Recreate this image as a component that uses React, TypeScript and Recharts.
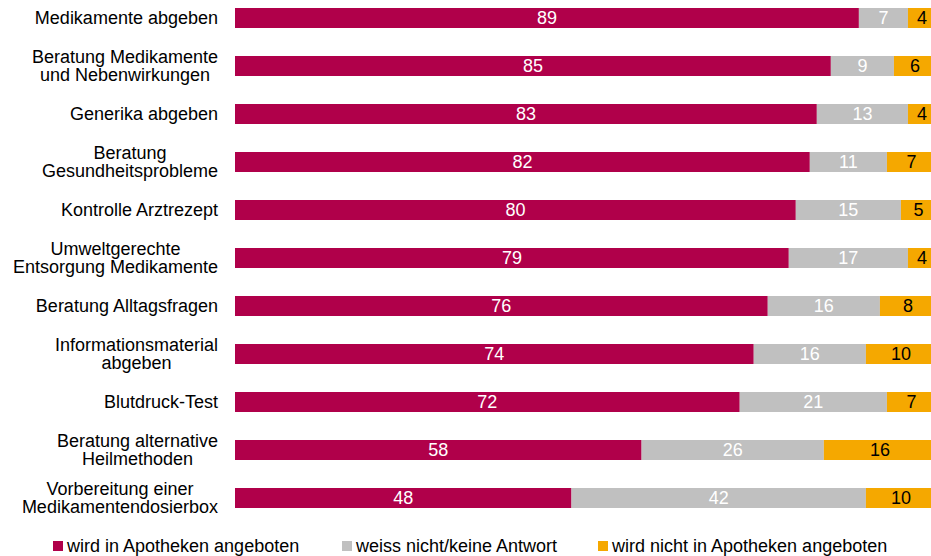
import React from "react";
import { BarChart, Bar, XAxis, YAxis, LabelList } from "recharts";

const categories = [
  "Medikamente abgeben",
  "Beratung Medikamente\nund Nebenwirkungen",
  "Generika abgeben",
  "Beratung\nGesundheitsprobleme",
  "Kontrolle Arztrezept",
  "Umweltgerechte\nEntsorgung Medikamente",
  "Beratung Alltagsfragen",
  "Informationsmaterial\nabgeben",
  "Blutdruck-Test",
  "Beratung alternative\nHeilmethoden",
  "Vorbereitung einer\nMedikamentendosierbox",
];
const offered = [89, 85, 83, 82, 80, 79, 76, 74, 72, 58, 48];
const unknown = [7, 9, 13, 11, 15, 17, 16, 16, 21, 26, 42];
const notOffered = [4, 6, 4, 7, 5, 4, 8, 10, 7, 16, 10];

const seriesNames = [
  "wird in Apotheken angeboten",
  "weiss nicht/keine Antwort",
  "wird nicht in Apotheken angeboten",
];
const colors = ["#B0004A", "#C0C0C0", "#F5A800"];

const data = categories.map((name, i) => ({
  name,
  offered: offered[i],
  unknown: unknown[i],
  notOffered: notOffered[i],
}));

const FONT = "'Liberation Sans', Arial, sans-serif";

let ctx: CanvasRenderingContext2D | null = null;
function textWidth(s: string) {
  if (!ctx) ctx = document.createElement("canvas").getContext("2d");
  if (!ctx) return s.length * 9;
  ctx.font = `18px ${FONT}`;
  return ctx.measureText(s).width;
}

// labels end 17px left of the bars; multi-line labels are centred as a block
function CategoryTick({ y, payload }: { y?: number; payload?: { value: string } }) {
  const lines = String(payload?.value ?? "").split("\n");
  const right = 218;
  const lh = 18;
  if (lines.length === 1) {
    return (
      <text x={right} y={y} dy="0.35em" textAnchor="end" fontSize={18} fontFamily={FONT} fill="#000">
        {lines[0]}
      </text>
    );
  }
  const w = Math.max(...lines.map(textWidth));
  const cx = right - w / 2;
  return (
    <text x={cx} y={y} textAnchor="middle" fontSize={18} fontFamily={FONT} fill="#000">
      {lines.map((l, i) => (
        <tspan key={i} x={cx} dy={i === 0 ? `${0.35 - ((lines.length - 1) * lh) / 2 / 18}em` : lh}>
          {l}
        </tspan>
      ))}
    </text>
  );
}

export default function App() {
  return (
    <div
      style={{
        position: "fixed",
        left: 0,
        top: 0,
        width: 931,
        height: 556,
        overflow: "hidden",
        background: "#fff",
        fontFamily: FONT,
      }}
    >
      <div style={{ position: "absolute", left: 0, top: -6 }}>
        <BarChart
          width={936}
          height={528}
          data={data}
          layout="vertical"
          margin={{ top: 0, right: 0, bottom: 0, left: 0 }}
          barSize={20}
        >
          <XAxis type="number" domain={[0, 100]} hide />
          <YAxis
            type="category"
            dataKey="name"
            width={235}
            axisLine={false}
            tickLine={false}
            tick={<CategoryTick />}
            interval={0}
          />
          <Bar dataKey="offered" stackId="a" fill={colors[0]} isAnimationActive={false}>
            <LabelList dataKey="offered" position="center" fill="#fff" fontSize={18} fontFamily={FONT} />
          </Bar>
          <Bar dataKey="unknown" stackId="a" fill={colors[1]} isAnimationActive={false}>
            <LabelList dataKey="unknown" position="center" fill="#fff" fontSize={18} fontFamily={FONT} />
          </Bar>
          <Bar dataKey="notOffered" stackId="a" fill={colors[2]} isAnimationActive={false}>
            <LabelList dataKey="notOffered" position="center" fill="#000" fontSize={18} fontFamily={FONT} />
          </Bar>
        </BarChart>
      </div>
      {seriesNames.map((s, i) => (
        <div
          key={s}
          style={{
            position: "absolute",
            left: [53, 342, 598][i],
            top: 536,
            display: "flex",
            alignItems: "center",
            fontSize: 18,
            lineHeight: "20px",
            whiteSpace: "nowrap",
          }}
        >
          <span style={{ display: "inline-block", width: 10, height: 10, background: colors[i], marginRight: 4 }} />
          {s}
        </div>
      ))}
    </div>
  );
}
